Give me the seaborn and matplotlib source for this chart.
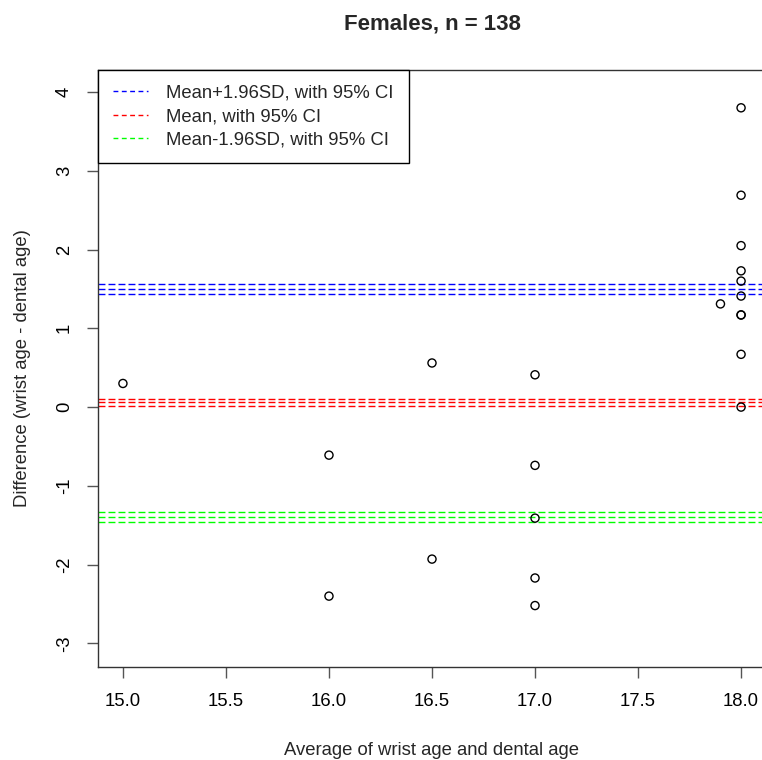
import matplotlib
matplotlib.use("Agg")
import matplotlib.pyplot as plt
from matplotlib.lines import Line2D
import seaborn as sns
import pandas as pd

# Data
avg_age = [15.0, 16.0, 16.0, 16.5, 16.5, 17.0, 17.0, 17.0, 17.0, 17.0,
           17.9, 18.0, 18.0, 18.0, 18.0, 18.0, 18.0, 18.0, 18.0, 18.0, 18.0]
difference = [0.30, -0.61, -2.40, 0.56, -1.93, 0.41, -0.74, -1.41, -2.17, -2.52,
              1.31, 3.80, 2.69, 2.05, 1.73, 1.60, 1.41, 1.17, 1.17, 0.67, 0.00]

upper_loa = [1.43, 1.50, 1.56]   # Mean+1.96SD and its 95% CI
mean_diff = [0.02, 0.06, 0.10]   # Mean and its 95% CI
lower_loa = [-1.46, -1.39, -1.33]  # Mean-1.96SD and its 95% CI

x_ticks = [15.0, 15.5, 16.0, 16.5, 17.0, 17.5, 18.0]
y_ticks = [-3, -2, -1, 0, 1, 2, 3, 4]

legend_labels = ["Mean+1.96SD, with 95% CI", "Mean, with 95% CI", "Mean-1.96SD, with 95% CI"]
line_colors = ["#0000FF", "#FF0000", "#00FF00"]

sns.set_style("white")
plt.rcParams["font.family"] = ["Liberation Sans", "DejaVu Sans"]

df = pd.DataFrame({"avg": avg_age, "diff": difference})

fig = plt.figure(figsize=(7.62, 7.60), dpi=100)
ax = fig.add_axes([98 / 762, (760 - 667) / 760, 668 / 762, 597 / 760])

sns.scatterplot(data=df, x="avg", y="diff", ax=ax, marker="o", s=34,
                facecolor="none", edgecolor="black", linewidth=1.0, zorder=3)

for vals, col in zip([upper_loa, mean_diff, lower_loa], line_colors):
    for v in vals:
        ax.axhline(v, color=col, lw=1.0, ls=(0, (5, 2.2)), zorder=2)

ax.set_xlim(14.879, 18.121)
ax.set_ylim(-3.30, 4.28)
ax.set_xticks(x_ticks)
ax.set_xticklabels([f"{t:.1f}" for t in x_ticks])
ax.set_yticks(y_ticks)
ax.set_yticklabels([str(t) for t in y_ticks], rotation=90, va="center")
ax.tick_params(axis="both", which="major", direction="out", length=8,
               width=1.0, color="#555555", labelsize=13.3, pad=10, labelcolor="black")
ax.tick_params(axis="x", bottom=True, pad=11)
ax.tick_params(axis="y", left=True)

for sp in ax.spines.values():
    sp.set_visible(True)
    sp.set_color("#333333")
    sp.set_linewidth(1.0)

ax.set_xlabel("Average of wrist age and dental age", fontsize=13.3, labelpad=23)
ax.set_ylabel("Difference (wrist age - dental age)", fontsize=13.3, labelpad=18)
ax.set_title("Females, n = 138", fontsize=16, fontweight="bold", pad=29)

handles = [Line2D([0], [0], color=c, lw=1.0, ls=(0, (3.5, 2.5))) for c in line_colors]
leg = ax.legend(handles, legend_labels, loc="upper left", bbox_to_anchor=(0, 1),
                borderaxespad=0, fancybox=False, framealpha=1, edgecolor="black",
                fontsize=13.3, handlelength=1.9, handletextpad=1.0, labelspacing=0.34,
                borderpad=0.8)
leg.get_frame().set_linewidth(1.0)

fig.savefig("out.png", dpi=100)
